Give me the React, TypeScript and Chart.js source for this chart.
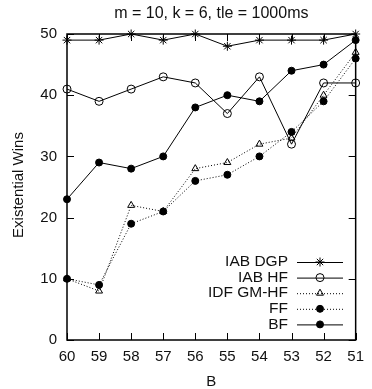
import React, { useEffect, useRef } from "react";
import { Chart, registerables } from "chart.js";
import { drawPoint } from "chart.js/helpers";

Chart.register(...registerables);

const categories = ["60", "59", "58", "57", "56", "55", "54", "53", "52", "51"];
const iabDgp = [49, 49, 50, 49, 50, 48, 49, 49, 49, 50];
const iabHf = [41, 39, 41, 43, 42, 37, 43, 32, 42, 42];
const idfGmHf = [10, 8, 22, 21, 28, 29, 32, 33, 40, 47];
const ff = [10, 9, 19, 21, 26, 27, 30, 34, 39, 46];
const bf = [23, 29, 28, 30, 38, 40, 39, 44, 45, 49];
const yTicks = [0, 10, 20, 30, 40, 50];

const titleText = "m = 10, k = 6, tle = 1000ms";
const xTitle = "B";
const yTitle = "Existential Wins";
const FONT = '"Liberation Sans", Arial, sans-serif';

const framePlugin = {
  id: "frame",
  beforeDatasetsDraw(chart: any) {
    const { ctx, chartArea: a, scales } = chart;
    ctx.save();
    ctx.strokeStyle = "#000";
    ctx.lineWidth = 1;
    const tl = 7;
    ctx.beginPath();
    const xs = scales.x;
    for (let i = 0; i < categories.length; i++) {
      const px = Math.round(xs.getPixelForTick(i)) + 0.5;
      ctx.moveTo(px, a.bottom);
      ctx.lineTo(px, a.bottom - tl);
      ctx.moveTo(px, a.top);
      ctx.lineTo(px, a.top + tl);
    }
    const ys = scales.y;
    for (const v of yTicks) {
      const py = Math.round(ys.getPixelForValue(v)) + 0.5;
      ctx.moveTo(a.left, py);
      ctx.lineTo(a.left + tl, py);
      ctx.moveTo(a.right, py);
      ctx.lineTo(a.right - tl, py);
    }
    ctx.stroke();
    ctx.lineWidth = 1.5;
    ctx.strokeRect(a.left, a.top, a.right - a.left, a.bottom - a.top);
    // titles
    ctx.fillStyle = "#111";
    ctx.textAlign = "center";
    ctx.textBaseline = "alphabetic";
    ctx.font = `16px ${FONT}`;
    ctx.fillText(titleText, (a.left + a.right) / 2, 17.5);
    ctx.font = `15px ${FONT}`;
    ctx.fillText(xTitle, (a.left + a.right) / 2, 385.5);
    ctx.save();
    ctx.translate(22.5, 185);
    ctx.rotate(-Math.PI / 2);
    ctx.fillText(yTitle, 0, 0);
    ctx.restore();
    ctx.restore();
  },
  afterDatasetsDraw(chart: any) {
    const { ctx } = chart;
    ctx.save();
    const ds = chart.data.datasets;
    const ys0 = 262;
    const step = 15.6;
    ds.forEach((d: any, i: number) => {
      const y = ys0 + i * step;
      ctx.fillStyle = "#111";
      ctx.font = `15.5px ${FONT}`;
      ctx.textAlign = "right";
      ctx.textBaseline = "middle";
      ctx.fillText(d.label, 288, y);
      ctx.strokeStyle = d.borderColor;
      ctx.lineWidth = d.borderWidth;
      ctx.setLineDash(d.borderDash || []);
      ctx.beginPath();
      ctx.moveTo(297, y + 0.5);
      ctx.lineTo(343, y + 0.5);
      ctx.stroke();
      ctx.setLineDash([]);
      ctx.fillStyle = d.pointBackgroundColor;
      ctx.strokeStyle = d.pointBorderColor;
      ctx.lineWidth = 1;
      drawPoint(ctx, { pointStyle: d.pointStyle, radius: d.pointRadius, borderWidth: 1, rotation: 0 }, 320, y);
    });
    ctx.restore();
  },
};

export default function App() {
  const ref = useRef<HTMLCanvasElement>(null);
  useEffect(() => {
    if (!ref.current) return;
    const mk = (label: string, data: number[], style: string, dashed: boolean, fill: string, r: number) => ({
      label,
      data,
      borderColor: "#000",
      borderWidth: 1,
      borderDash: dashed ? [1, 2] : [],
      pointStyle: style,
      pointRadius: r,
      pointBorderColor: "#000",
      pointBorderWidth: 1,
      pointBackgroundColor: fill,
      backgroundColor: fill,
      tension: 0,
      clip: false as any,
    });
    const chart = new Chart(ref.current, {
      type: "line",
      data: {
        labels: categories,
        datasets: [
          mk("IAB DGP", iabDgp, "star", false, "rgba(0,0,0,0)", 4.5),
          mk("IAB HF", iabHf, "circle", false, "rgba(0,0,0,0)", 4),
          mk("IDF GM-HF", idfGmHf, "triangle", true, "rgba(0,0,0,0)", 4),
          mk("FF", ff, "circle", true, "#000", 3.5),
          mk("BF", bf, "circle", false, "#000", 3.5),
        ],
      },
      options: {
        animation: false,
        responsive: false,
        layout: { padding: { top: 34, right: 9, left: 0, bottom: 0 } },
        plugins: { legend: { display: false }, title: { display: false }, tooltip: { enabled: false } },
        scales: {
          x: {
            type: "category",
            offset: false,
            grid: { display: false, drawTicks: false },
            border: { display: false },
            ticks: { color: "#111", font: { family: FONT, size: 15 }, padding: 8, maxRotation: 0, autoSkip: false },
            afterFit: (s: any) => {
              s.height = 49;
            },
          },
          y: {
            min: 0,
            max: 50,
            grid: { display: false, drawTicks: false },
            border: { display: false },
            ticks: { stepSize: 10, color: "#111", font: { family: FONT, size: 15 }, padding: 10 },
            afterFit: (s: any) => {
              s.width = 67;
            },
          },
        },
      },
      plugins: [framePlugin],
    });
    return () => chart.destroy();
  }, []);
  return (
    <div style={{ position: "fixed", left: 0, top: 0, width: 372, height: 389, background: "#fff" }}>
      <canvas ref={ref} width={372} height={389} style={{ display: "block" }} />
    </div>
  );
}
